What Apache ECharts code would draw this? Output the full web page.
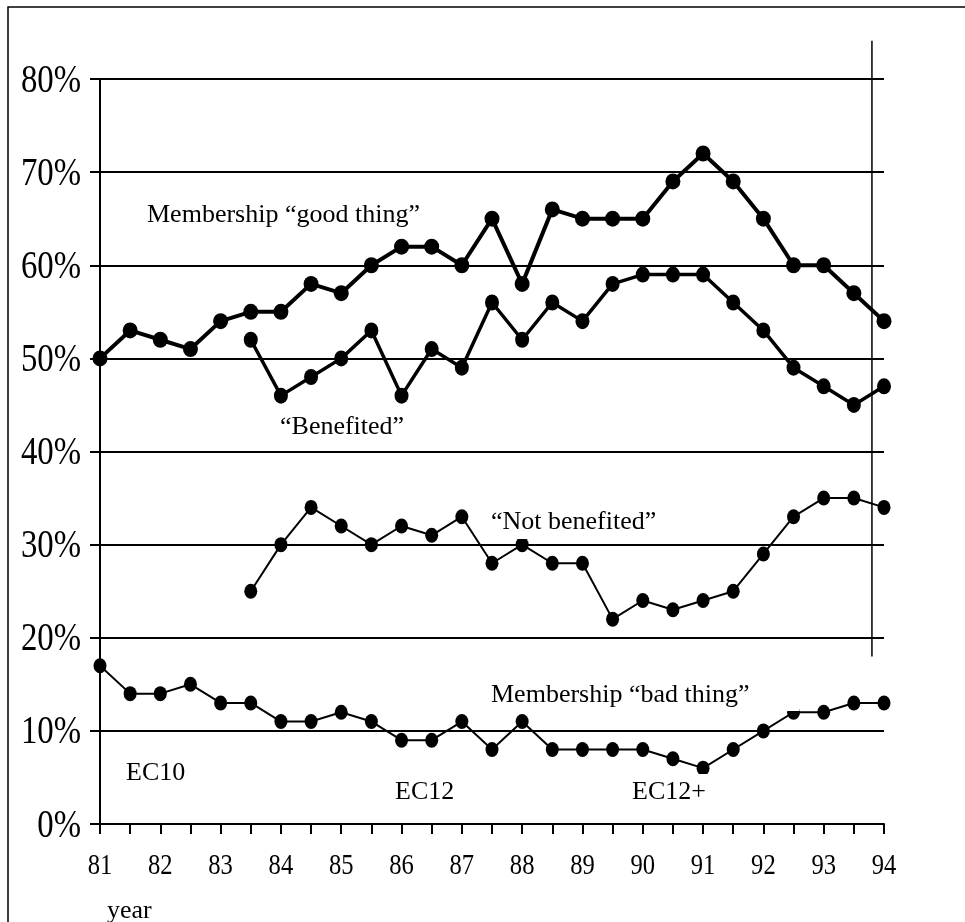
<!DOCTYPE html>
<html>
<head>
<meta charset="utf-8">
<script src="https://cdn.jsdelivr.net/npm/echarts@6/dist/echarts.min.js"></script>
<style>
html,body{margin:0;padding:0;background:#fff;}
#chart{width:965px;height:922px;}
</style>
</head>
<body>
<div id="chart"></div>
<script>
const years = [81, 81.5, 82, 82.5, 83, 83.5, 84, 84.5, 85, 85.5, 86, 86.5, 87, 87.5, 88, 88.5, 89, 89.5, 90, 90.5, 91, 91.5, 92, 92.5, 93, 93.5, 94];
const goodThing = [50, 53, 52, 51, 54, 55, 55, 58, 57, 60, 62, 62, 60, 65, 58, 66, 65, 65, 65, 69, 72, 69, 65, 60, 60, 57, 54];
const benefited = [null, null, null, null, null, 52, 46, 48, 50, 53, 46, 51, 49, 56, 52, 56, 54, 58, 59, 59, 59, 56, 53, 49, 47, 45, 47];
const notBenefited = [null, null, null, null, null, 25, 30, 34, 32, 30, 32, 31, 33, 28, 30, 28, 28, 22, 24, 23, 24, 25, 29, 33, 35, 35, 34];
const badThing = [17, 14, 14, 15, 13, 13, 11, 11, 12, 11, 9, 9, 11, 8, 11, 8, 8, 8, 8, 7, 6, 8, 10, 12, 12, 13, 13];
const yTicks = [0, 10, 20, 30, 40, 50, 60, 70, 80];
const xTickLabels = [81, 82, 83, 84, 85, 86, 87, 88, 89, 90, 91, 92, 93, 94];
const frameLine = [[93.8, 18.0], [93.8, 84.1]];

const FONT = '"Liberation Serif", "Times New Roman", serif';
const pairs = arr => years.map((x, i) => [x, arr[i]]);

const chart = echarts.init(document.getElementById('chart'));

function lineSeries(name, arr, width, size) {
  return {
    name, type: 'line', data: pairs(arr), connectNulls: false,
    symbol: 'circle', symbolSize: size, showSymbol: true,
    lineStyle: { color: '#000', width: width },
    itemStyle: { color: '#000' },
    emphasis: { disabled: true }, silent: true, animation: false
  };
}

chart.setOption({
  animation: false,
  backgroundColor: '#fff',
  grid: { left: 100, right: 81, top: 79, bottom: 98 },
  xAxis: {
    type: 'value', min: 81, max: 94, interval: 0.5,
    axisLine: { show: true, onZero: false, lineStyle: { color: '#000', width: 2 } },
    axisTick: { show: true, length: 10, lineStyle: { color: '#000', width: 2 } },
    splitLine: { show: false },
    axisLabel: { show: false }
  },
  yAxis: {
    type: 'value', min: yTicks[0], max: yTicks[yTicks.length - 1], interval: 10,
    axisLine: { show: true, lineStyle: { color: '#000', width: 2 } },
    axisTick: { show: true, length: 10, lineStyle: { color: '#000', width: 2 } },
    splitLine: { show: true, lineStyle: { color: '#000', width: 2 } },
    axisLabel: { show: false }
  },
  series: [
    lineSeries('Membership good thing', goodThing, 4, [15, 16]),
    lineSeries('Benefited', benefited, 3.5, [14, 16]),
    lineSeries('Not benefited', notBenefited, 2, [13, 15]),
    lineSeries('Membership bad thing', badThing, 2, [13, 15]),
    {
      type: 'line', data: frameLine, symbol: 'none', clip: false, silent: true,
      lineStyle: { color: '#000', width: 1.5 }, z: 1
    }
  ]
});

const txt = (text, x, y, extra) => ({
  type: 'text', z: 100, silent: true, x, y,
  style: Object.assign({ text, font: '26px ' + FONT, fill: '#000', verticalAlign: 'middle' }, extra || {})
});

const graphics = [
  { type: 'rect', z: 200, silent: true, shape: { x: 8, y: 7, width: 1000, height: 1000 },
    style: { fill: 'none', stroke: '#000', lineWidth: 1.5 } },
  txt('Membership “good thing”', 145, 215, { backgroundColor: '#fff', padding: [2, 2, 2, 2] }),
  txt('“Benefited”', 278, 427, { backgroundColor: '#fff', padding: [2, 2, 2, 2] }),
  txt('“Not benefited”', 489, 522, { backgroundColor: '#fff', padding: [2, 4, 6, 2] }),
  txt('Membership “bad thing”', 489, 695, { backgroundColor: '#fff', padding: [2, 50, 4, 2] }),
  txt('EC10', 126, 773),
  txt('EC12', 395, 792),
  txt('EC12+', 630, 792, { backgroundColor: '#fff', padding: [8, 2, 2, 2] }),
  txt('year', 107, 911)
];

yTicks.forEach(v => {
  const p = chart.convertToPixel({ gridIndex: 0 }, [81, v]);
  graphics.push({
    type: 'text', z: 100, silent: true, x: 81, y: p[1] + 2, scaleX: 0.82,
    style: { text: v + '%', font: '40px ' + FONT, fill: '#000', align: 'right', verticalAlign: 'middle' }
  });
});
xTickLabels.forEach(v => {
  const p = chart.convertToPixel({ gridIndex: 0 }, [v, 0]);
  graphics.push({
    type: 'text', z: 100, silent: true, x: p[0], y: 866, scaleX: 0.82,
    style: { text: String(v), font: '30px ' + FONT, fill: '#000', align: 'center', verticalAlign: 'middle' }
  });
});

chart.setOption({ graphic: graphics });
</script>
</body>
</html>
